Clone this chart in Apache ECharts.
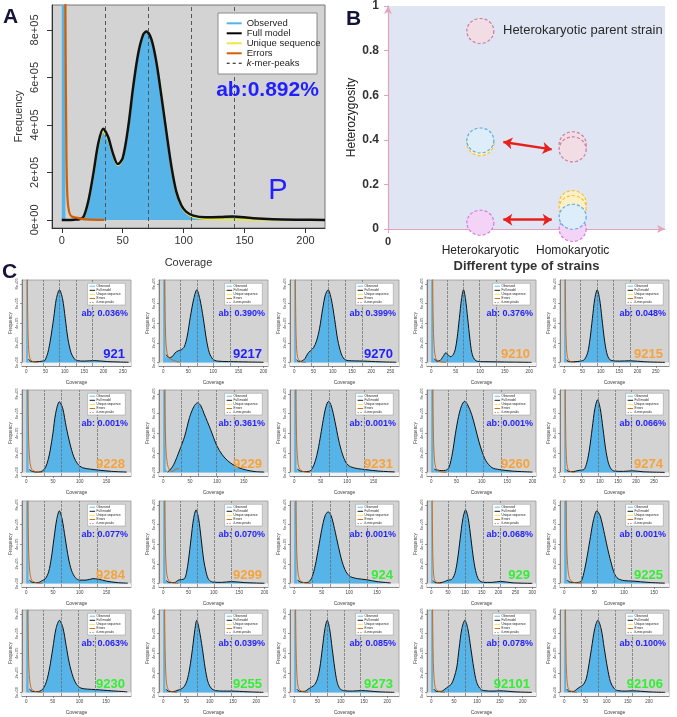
<!DOCTYPE html>
<html>
<head>
<meta charset="utf-8">
<title>Heterozygosity of strains - GenomeScope profiles</title>
<script src="https://cdn.jsdelivr.net/npm/echarts@6/dist/echarts.min.js"></script>
<style>
  html, body { margin: 0; padding: 0; background: #fff; }
  #chart { width: 677px; height: 717px; }
</style>
</head>
<body>
<div id="chart"></div>
<script>
// ---------- Panel A: parent strain k-mer profile (frequency in units of 1e+05) ----------
const aFullModel = [[0, 0], [5, 0], [10, 0.01], [15, 0.04], [18, 0.14], [22, 0.84], [26, 1.97], [30, 3.23], [34, 3.84],
  [38, 3.5], [42, 2.8], [46, 2.35], [50, 2.6], [54.5, 3.9], [58.6, 5.6], [62.7, 7.0], [66.8, 7.8], [69.5, 7.93],
  [73.6, 7.6], [77.8, 6.6], [81.8, 5.2], [86, 3.65], [90, 2.24], [94, 1.19], [98, 0.63], [102, 0.35], [108, 0.18],
  [118, 0.11], [130, 0.12], [140, 0.14], [150, 0.11], [157, 0.07], [173, 0.03], [195, 0.01], [216, 0]];
const aUniqueSeq = [[15, 0.02], [18, 0.12], [22, 0.8], [26, 1.9], [30, 3.12], [34, 3.72], [38, 3.4], [42, 2.74],
  [46, 2.3], [50, 2.56], [54.5, 3.88], [58.6, 5.6], [62.7, 7.0], [66.8, 7.8], [69.5, 7.93], [73.6, 7.6], [77.8, 6.6],
  [81.8, 5.2], [86, 3.62], [90, 2.2], [94, 1.15], [98, 0.58], [102, 0.3], [108, 0.12], [118, 0.04], [130, 0.02],
  [150, 0.01], [216, 0]];
const aErrors = [[2, 30], [3, 9], [3.8, 3], [4.6, 1.0], [6, 0.35], [8, 0.15], [12, 0.1], [15, 0.06], [20, 0.02], [35, 0]];
const aObservedHead = [[0, 30], [2.6, 30], [3, 0.3]];
const aKmerPeaks = [35.3, 70.6, 105.9, 141.2];
const aAbundance = 'ab:0.892%';

// ---------- Panel B: heterozygosity by strain type ----------
const bCategories = ['Heterokaryotic', 'Homokaryotic'];
const bRose = [[1, 0.888], [2, 0.38], [2, 0.357]];
const bYellow = [[1, 0.385], [2, 0.116], [2, 0.094]];
const bMagenta = [[1, 0.028], [2, 0.0]];
const bBlue = [[1, 0.397], [2, 0.055]];
const bArrows = [[[1.249, 0.39], [1.773, 0.357]], [[1.249, 0.042], [1.773, 0.042]]];

// ---------- Panel C: k-mer profiles of 20 strains ----------
const strainNames = ['921', '9217', '9270', '9210', '9215', '9228', '9229', '9231', '9260', '9274',
  '9284', '9299', '924', '929', '9225', '9230', '9255', '9273', '92101', '92106'];
const abValues = ['0.036%', '0.390%', '0.399%', '0.376%', '0.048%', '0.001%', '0.361%', '0.001%', '0.001%', '0.066%',
  '0.077%', '0.070%', '0.001%', '0.068%', '0.001%', '0.063%', '0.039%', '0.085%', '0.078%', '0.100%'];
const strainGroup = [0, 0, 0, 1, 1, 1, 1, 1, 1, 1, 1, 1, 2, 2, 2, 2, 2, 2, 2, 2];
const coverageMax = [271, 209, 272, 214, 286, 196, 195, 198, 207, 292, 196, 207, 190, 311, 175, 197, 225, 225, 229, 247];
const kmerSpacing = [43, 33.5, 44, 33, 45, 33, 33, 33, 34.5, 47, 33, 33.5, 33, 51, 28, 32.5, 36.5, 35.5, 36.8, 40];
const fitCurves = [
  [[6,0.35],[12,0.12],[25,0.08],[43,0.15],[48,0.2],[56,1.0],[63,2.4],[71,4.5],[78,6.5],[86,7.4],[94,6.5],[101,4.5],[108,2.4],[116,1.0],[124,0.4],[132,0.2],[150,0.15],[176,0.2],[210,0.1],[265,0.03]],
  [[6,0.8],[12,0.5],[18,0.6],[24,1.0],[30,1.2],[36,1.3],[42,1.6],[48,2.7],[54,4.6],[61,6.5],[67,7.4],[73,6.5],[80,4.5],[86,2.4],[92,1.0],[99,0.35],[108,0.15],[130,0.1],[170,0.06],[200,0.03]],
  [[6,0.3],[12,0.12],[20,0.15],[28,0.4],[35,0.9],[42,1.2],[50,1.5],[58,2.2],[66,3.5],[74,5.5],[81,6.9],[88,7.4],[96,6.5],[105,4.4],[113,2.3],[122,0.9],[130,0.35],[140,0.2],[180,0.15],[220,0.08],[265,0.03]],
  [[6,0.4],[12,0.15],[18,0.2],[24,0.6],[30,1.0],[35,0.75],[40,0.6],[45,0.8],[49,1.3],[53,2.5],[57.5,4.5],[62,6.5],[66,7.4],[70,6.5],[74.5,4.5],[79,2.4],[83,1.0],[88,0.35],[95,0.12],[120,0.08],[150,0.06],[205,0.02]],
  [[6,0.3],[12,0.1],[25,0.08],[45,0.15],[55,0.3],[64,1.0],[70.5,2.4],[77,4.5],[83.5,6.5],[90,7.4],[96.5,6.5],[103,4.5],[109.5,2.4],[116,1.0],[122,0.4],[130,0.2],[150,0.15],[180,0.18],[220,0.08],[275,0.02]],
  [[6,0.3],[12,0.1],[22,0.05],[30,0.15],[36,0.5],[41,1.3],[45,2.3],[50,4.0],[55,6.0],[62,7.2],[68,6.6],[75,4.6],[82,2.9],[89,1.6],[96,0.9],[105,0.5],[120,0.35],[135,0.25],[160,0.12],[188,0.05]],
  [[8,0.05],[14,0.35],[20,0.85],[30,2.2],[40,3.7],[49,5.6],[57,6.7],[64,7.1],[70,6.8],[76,6.0],[88,4.4],[100,2.7],[110,1.8],[120,1.2],[130,0.8],[140,0.5],[155,0.25],[171,0.1],[188,0.05]],
  [[6,0.35],[12,0.15],[20,0.1],[28,0.12],[34,0.4],[40,1.2],[45,2.3],[50,3.8],[55,5.4],[60,6.7],[65,7.25],[70,6.8],[77,5.2],[84,3.3],[91,1.9],[98,1.0],[106,0.6],[120,0.4],[135,0.3],[160,0.15],[190,0.06]],
  [[6,0.35],[12,0.25],[20,0.2],[28,0.22],[35,0.5],[42,2.0],[48,4.0],[54,5.7],[60,6.8],[66,7.25],[72,6.9],[80,5.9],[87,4.6],[94,3.2],[100,2.2],[108,1.2],[120,0.5],[135,0.3],[160,0.15],[200,0.05]],
  [[6,0.3],[12,0.12],[25,0.1],[38,0.2],[46,0.25],[55,0.3],[63,1.0],[70.5,2.4],[78,4.5],[85.5,6.5],[93,7.4],[100.5,6.5],[108,4.5],[115.5,2.4],[123,1.0],[131,0.35],[140,0.15],[165,0.12],[190,0.18],[220,0.08],[280,0.02]],
  [[6,0.35],[12,0.12],[22,0.1],[30,0.3],[36,0.5],[42,1.2],[47,2.6],[52,4.6],[57,6.5],[62,7.4],[67,6.6],[73,4.6],[79,2.6],[85,1.3],[92,0.6],[100,0.35],[112,0.35],[125,0.5],[135,0.45],[150,0.25],[170,0.1],[190,0.04]],
  [[6,0.3],[12,0.12],[22,0.1],[30,0.35],[36,0.4],[42,0.5],[46,1.1],[50,2.4],[55,4.55],[60,6.6],[65,7.5],[70,6.6],[75,4.55],[80,2.4],[85,1.1],[90,0.4],[98,0.15],[115,0.12],[135,0.2],[160,0.1],[200,0.03]],
  [[6,0.35],[12,0.15],[20,0.1],[26,0.15],[32,0.6],[38,1.8],[44,3.6],[50,5.5],[56,6.9],[61.5,7.3],[67,6.9],[73,5.6],[80,3.8],[87,2.2],[94,1.2],[102,0.7],[115,0.5],[130,0.4],[150,0.2],[175,0.06]],
  [[6,0.3],[12,0.1],[25,0.08],[40,0.2],[50,0.35],[60,0.4],[70,1.0],[78,2.4],[86,4.55],[94,6.6],[102,7.5],[110,6.6],[118,4.55],[126,2.4],[134,1.0],[142,0.35],[155,0.12],[180,0.12],[206,0.22],[240,0.08],[300,0.02]],
  [[5,0.35],[10,0.15],[18,0.1],[24,0.12],[29,0.3],[34,1.4],[39,3.0],[44,4.8],[49,6.5],[54.5,7.4],[60,6.9],[66,5.4],[72,3.7],[78,2.2],[84,1.0],[90,0.5],[100,0.3],[115,0.25],[140,0.12],[168,0.04]],
  [[6,0.35],[12,0.12],[20,0.1],[26,0.15],[32,0.4],[38,1.1],[44,2.5],[50,4.5],[56,6.5],[62.5,7.35],[69,6.6],[75,4.8],[81,3.0],[88,1.6],[95,0.8],[103,0.45],[115,0.35],[131,0.3],[160,0.18],[190,0.07]],
  [[6,0.35],[12,0.12],[22,0.1],[32,0.25],[38,0.35],[45,0.6],[51,1.2],[57,2.5],[63,4.5],[68,6.4],[72,7.35],[77,6.5],[84,4.5],[90,2.5],[96,1.1],[103,0.45],[112,0.2],[130,0.15],[147,0.15],[180,0.08],[215,0.02]],
  [[6,0.35],[12,0.12],[22,0.12],[30,0.35],[37,0.55],[44,0.8],[50,1.4],[55,2.5],[60.5,4.5],[66,6.5],[71,7.35],[76,6.5],[81.5,4.5],[87,2.5],[92,1.1],[98,0.4],[106,0.2],[125,0.15],[145,0.2],[180,0.08],[215,0.02]],
  [[6,0.35],[12,0.12],[22,0.12],[30,0.35],[37,0.6],[44,0.85],[50,1.5],[56,2.6],[61,4.5],[67,6.5],[73.6,7.35],[80,6.5],[86.6,4.5],[93,2.5],[99,1.1],[106,0.45],[115,0.2],[135,0.15],[150,0.18],[185,0.07],[220,0.02]],
  [[6,0.35],[12,0.12],[22,0.12],[30,0.35],[38,0.6],[45,0.8],[52,1.4],[57,2.5],[64.4,4.5],[72,6.5],[79.4,7.35],[87,6.5],[94.4,4.5],[102,2.5],[109,1.1],[117,0.45],[126,0.2],[145,0.15],[160,0.18],[200,0.07],[238,0.02]]
];
const errDefault = [[1.5, 30], [3, 9], [4.5, 3.5], [6.5, 1.3], [9, 0.5], [13, 0.2], [19, 0.08], [30, 0.02]];
const err9217 = [[1.5, 30], [3, 8], [5, 2.5], [8, 0.9], [12, 0.45], [17, 0.3], [24, 0.15], [33, 0.02]];
const err9229 = [[1.5, 30], [3, 8], [5, 2.5], [8, 0.8], [12, 0.25], [16, 0.1], [21, 0.25], [26, 0.4], [30, 0.38]];
const obsHead = [[0, 30], [4, 30], [4.5, 0.4]];

// layout of the small panels
const colLeft = [22, 159, 290, 427, 560];
const rowTop = [280, 390, 501, 610];
const cellW = 109, cellH = 86;

const FONT = '"Liberation Sans", Arial, Helvetica, sans-serif';
const C_OBS = '#56B4E9', C_FIT = '#111111', C_UNIQ = '#F0E442', C_ERR = '#D55E00';
const groupColors = ['#1f1fff', '#f5a33a', '#33ee33'];
const yTicks = [0, 2, 4, 6, 8];
const sci = v => (v === 0 ? '0e+00' : v + 'e+05');

const grids = [], xAxes = [], yAxes = [], series = [], graphics = [];

function legendBox(x0, y0, w, h, rowStart, rowGap, lineX0, lineX1, textX, fs, lw) {
  const items = [
    { t: 'Observed', c: C_OBS }, { t: 'Full model', c: '#000' }, { t: 'Unique sequence', c: C_UNIQ },
    { t: 'Errors', c: C_ERR }, { t: '{i|k}-mer-peaks', c: '#333', dash: true }
  ];
  graphics.push({ type: 'rect', z: 100, shape: { x: x0, y: y0, width: w, height: h },
    style: { fill: '#fff', stroke: '#8a8a8a', lineWidth: lw * 0.5 } });
  items.forEach((it, k) => {
    const y = y0 + rowStart + k * rowGap;
    graphics.push({ type: 'line', z: 101, shape: { x1: x0 + lineX0, y1: y, x2: x0 + lineX1, y2: y },
      style: { stroke: it.c, lineWidth: it.dash ? lw * 0.6 : lw, lineDash: it.dash ? [lw * 1.5, lw * 1.5] : null } });
    graphics.push({ type: 'text', z: 101, x: x0 + textX, y: y,
      style: { text: it.t, fontSize: fs, fontFamily: FONT, fill: '#222', align: 'left', verticalAlign: 'middle',
        rich: { i: { fontStyle: 'italic', fontSize: fs, fontFamily: FONT, fill: '#222' } } } });
  });
}

// ---------- Panel A ----------
grids.push({ left: 52, top: 5, width: 273, height: 223, show: true, backgroundColor: '#d3d3d3', borderColor: '#777', borderWidth: 1 });
xAxes.push({
  gridIndex: 0, type: 'value', min: -8, max: 216,
  axisLine: { show: true, onZero: false, lineStyle: { color: '#333' } },
  axisTick: { show: true, customValues: [0, 50, 100, 150, 200], length: 5, lineStyle: { color: '#333' } },
  axisLabel: { customValues: [0, 50, 100, 150, 200], fontSize: 11, color: '#333', margin: 7, fontFamily: FONT },
  splitLine: { show: false },
  name: 'Coverage', nameLocation: 'middle', nameGap: 29, nameTextStyle: { fontSize: 11, color: '#333', fontFamily: FONT }
});
yAxes.push({
  gridIndex: 0, type: 'value', min: -0.34, max: 9.05,
  axisLine: { show: true, onZero: false, lineStyle: { color: '#333' } },
  axisTick: { show: true, customValues: yTicks, length: 5, lineStyle: { color: '#333' } },
  axisLabel: { customValues: yTicks, formatter: sci, rotate: 90, fontSize: 11, color: '#333', margin: 12, fontFamily: FONT },
  splitLine: { show: false },
  name: 'Frequency', nameLocation: 'middle', nameGap: 28, nameTextStyle: { fontSize: 11, color: '#333', fontFamily: FONT }
});
series.push(
  { type: 'line', xAxisIndex: 0, yAxisIndex: 0, data: aObservedHead, symbol: 'none', z: 1,
    lineStyle: { width: 0 }, areaStyle: { color: C_OBS, opacity: 1 } },
  { type: 'line', xAxisIndex: 0, yAxisIndex: 0, data: aFullModel, smooth: 0.3, symbol: 'none', z: 1,
    lineStyle: { width: 0 }, areaStyle: { color: C_OBS, opacity: 1 } },
  { type: 'line', xAxisIndex: 0, yAxisIndex: 0, data: [], z: 2,
    markLine: { silent: true, symbol: ['none', 'none'], label: { show: false },
      lineStyle: { color: '#555', type: [4, 3], width: 1 }, data: aKmerPeaks.map(v => ({ xAxis: v })) } },
  { type: 'line', xAxisIndex: 0, yAxisIndex: 0, data: aUniqueSeq, smooth: 0.3, symbol: 'none', z: 3,
    lineStyle: { color: C_UNIQ, width: 2 } },
  { type: 'line', xAxisIndex: 0, yAxisIndex: 0, data: aFullModel, smooth: 0.3, symbol: 'none', z: 4,
    lineStyle: { color: C_FIT, width: 2.5 } },
  { type: 'line', xAxisIndex: 0, yAxisIndex: 0, data: aErrors, smooth: 0.3, symbol: 'none', z: 5,
    lineStyle: { color: C_ERR, width: 2.2 } }
);
legendBox(218, 13, 99, 61, 10.3, 10, 8.7, 23.7, 28.7, 9.5, 2);
graphics.push(
  { type: 'text', z: 100, x: 267.5, y: 90, style: { text: aAbundance, fontSize: 21, fontWeight: 'bold', fontFamily: FONT,
    fill: '#1f1fff', align: 'center', verticalAlign: 'middle' } },
  { type: 'text', z: 100, x: 278, y: 191, style: { text: 'P', fontSize: 29, fontFamily: FONT,
    fill: '#1f1fff', align: 'center', verticalAlign: 'middle' } }
);

// ---------- Panel B ----------
const pink = '#e2a3bb';
grids.push({ left: 388, top: 5.7, width: 277, height: 223.3, show: true, backgroundColor: '#dfe5f3', borderWidth: 0 });
xAxes.push({
  gridIndex: 1, type: 'value', min: 0, max: 3,
  axisLine: { show: true, onZero: false, symbol: ['none', 'arrow'], symbolSize: [6, 8], lineStyle: { color: pink, width: 1.2 } },
  axisTick: { show: true, customValues: [0], length: 4, lineStyle: { color: pink } },
  axisLabel: { customValues: [0, 1, 2], margin: 7,
    formatter: v => (v === 0 ? '{z|0}' : '{c|' + bCategories[v - 1] + '}'),
    rich: { z: { fontWeight: 'bold', fontSize: 11, color: '#333', fontFamily: FONT },
      c: { fontSize: 12, color: '#222', fontFamily: FONT, padding: [9, 0, 0, 0] } } },
  splitLine: { show: false },
  name: 'Different type of strains', nameLocation: 'middle', nameGap: 31,
  nameTextStyle: { fontSize: 13, fontWeight: 'bold', color: '#333', fontFamily: FONT }
});
yAxes.push({
  gridIndex: 1, type: 'value', min: 0, max: 1, interval: 0.2,
  axisLine: { show: true, onZero: false, symbol: ['none', 'arrow'], symbolSize: [6, 8], lineStyle: { color: pink, width: 1.2 } },
  axisTick: { show: true, length: 4, lineStyle: { color: pink } },
  axisLabel: { fontSize: 12, fontWeight: 'bold', color: '#333', margin: 9, fontFamily: FONT },
  splitLine: { show: false },
  name: 'Heterozygosity', nameLocation: 'middle', nameGap: 30,
  nameTextStyle: { fontSize: 12, color: '#222', fontFamily: FONT }
});
function bubble(data, fill, stroke) {
  return { type: 'scatter', xAxisIndex: 1, yAxisIndex: 1, data, symbol: 'circle', symbolSize: [27, 25], silent: true,
    itemStyle: { color: fill, borderColor: stroke, borderWidth: 1.2, borderType: [3, 2], opacity: 1 } };
}
series.push(
  bubble(bRose, '#f3dde5', '#c9809c'),
  bubble(bYellow, '#fbf0c6', '#f0c43a'),
  bubble(bMagenta, '#f3d3f6', '#d57be4'),
  bubble(bBlue, '#ddeefa', '#5aaee6'),
  { type: 'lines', coordinateSystem: 'cartesian2d', xAxisIndex: 1, yAxisIndex: 1, silent: true,
    symbol: ['arrow', 'arrow'], symbolSize: 9, lineStyle: { color: '#e8201c', width: 2.5, opacity: 1 },
    data: bArrows.map(c => ({ coords: c })) }
);
graphics.push({ type: 'text', z: 100, x: 503, y: 30, style: { text: 'Heterokaryotic parent strain', fontSize: 13,
  fontFamily: FONT, fill: '#2a2a2a', align: 'left', verticalAlign: 'middle' } });

// ---------- Panel C ----------
strainNames.forEach((name, i) => {
  const g = i + 2, row = Math.floor(i / 5), col = i % 5;
  const L = colLeft[col], T = rowTop[row], W = cellW, H = cellH;
  const xmax = coverageMax[i];
  const xTicks = [0, 50, 100, 150, 200, 250, 300].filter(v => v <= xmax);
  const peaks = [1, 2, 3, 4].map(k => k * kmerSpacing[i]);
  const fit = fitCurves[i];
  const err = name === '9217' ? err9217 : (name === '9229' ? err9229 : errDefault);
  grids.push({ left: L, top: T, width: W, height: H, show: true, backgroundColor: '#d3d3d3', borderColor: '#9a9a9a', borderWidth: 0.8 });
  xAxes.push({
    gridIndex: g, type: 'value', min: -0.04 * xmax, max: xmax,
    axisLine: { show: true, onZero: false, lineStyle: { color: '#555', width: 0.6 } },
    axisTick: { show: true, customValues: xTicks, length: 2, lineStyle: { color: '#555', width: 0.6 } },
    axisLabel: { customValues: xTicks, fontSize: 4.5, color: '#444', margin: 3, fontFamily: FONT },
    splitLine: { show: false },
    name: 'Coverage', nameLocation: 'middle', nameGap: 14, nameTextStyle: { fontSize: 5, color: '#444', fontFamily: FONT }
  });
  yAxes.push({
    gridIndex: g, type: 'value', min: -0.35, max: 8.4,
    axisLine: { show: true, onZero: false, lineStyle: { color: '#555', width: 0.6 } },
    axisTick: { show: true, customValues: yTicks, length: 2, lineStyle: { color: '#555', width: 0.6 } },
    axisLabel: { customValues: yTicks, formatter: sci, rotate: 90, fontSize: 4, color: '#444', margin: 3, fontFamily: FONT },
    splitLine: { show: false },
    name: 'Frequency', nameLocation: 'middle', nameGap: 9, nameTextStyle: { fontSize: 4.5, color: '#444', fontFamily: FONT }
  });
  series.push(
    { type: 'line', xAxisIndex: g, yAxisIndex: g, data: obsHead.concat([fit[0]]), symbol: 'none', z: 1,
      lineStyle: { width: 0 }, areaStyle: { color: C_OBS, opacity: 1 } },
    { type: 'line', xAxisIndex: g, yAxisIndex: g, data: fit, smooth: 0.3, symbol: 'none', z: 1,
      lineStyle: { width: 0 }, areaStyle: { color: C_OBS, opacity: 1 } },
    { type: 'line', xAxisIndex: g, yAxisIndex: g, data: [], z: 2,
      markArea: { silent: true, itemStyle: { color: '#f3f3f3' }, data: [[{ yAxis: -0.35 }, { yAxis: 0 }]] },
      markLine: { silent: true, symbol: ['none', 'none'], label: { show: false },
        lineStyle: { color: '#6a6a6a', type: [3, 1], width: 0.7 }, data: peaks.map(v => ({ xAxis: v })) } },
    { type: 'line', xAxisIndex: g, yAxisIndex: g, data: fit, smooth: 0.3, symbol: 'none', z: 4,
      lineStyle: { color: C_FIT, width: 1 } },
    { type: 'line', xAxisIndex: g, yAxisIndex: g, data: err, smooth: 0.3, symbol: 'none', z: 5,
      lineStyle: { color: C_ERR, width: 0.9 } }
  );
  legendBox(L + W - 43.4, T + 3.3, 37.7, 21.7, 2.9, 4.1, 2, 7.5, 9, 3.1, 0.9);
  graphics.push(
    { type: 'text', z: 100, x: L + W - 3, y: T + 34, style: { text: 'ab: ' + abValues[i], fontSize: 9, fontWeight: 'bold',
      fontFamily: FONT, fill: '#1f1fff', align: 'right', verticalAlign: 'middle' } },
    { type: 'text', z: 100, x: L + W - 6, y: T + 74, style: { text: name, fontSize: 13, fontWeight: 'bold',
      fontFamily: FONT, fill: groupColors[strainGroup[i]], align: 'right', verticalAlign: 'middle' } }
  );
});

// panel letters
[['A', 3, 17], ['B', 346, 19], ['C', 2, 272]].forEach(([t, x, y]) => {
  graphics.push({ type: 'text', z: 100, x, y, style: { text: t, fontSize: 21, fontWeight: 'bold', fontFamily: FONT,
    fill: '#14143a', align: 'left', verticalAlign: 'middle' } });
});

const myChart = echarts.init(document.getElementById('chart'));
myChart.setOption({
  animation: false,
  backgroundColor: '#ffffff',
  grid: grids,
  xAxis: xAxes,
  yAxis: yAxes,
  series: series,
  graphic: { elements: graphics }
});
window.addEventListener('resize', () => myChart.resize());
</script>
</body>
</html>
